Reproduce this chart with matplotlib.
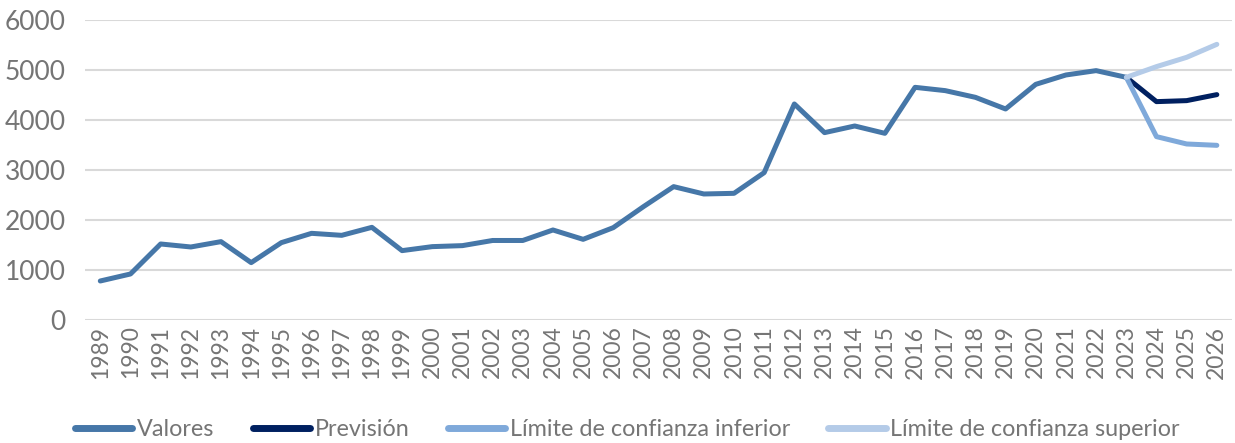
import numpy as np
import matplotlib.pyplot as plt

# Datos
years = [str(y) for y in range(1989, 2027)]
valores = [780, 920, 1520, 1460, 1567, 1147, 1547, 1733, 1693, 1853,
           1387, 1467, 1487, 1590, 1590, 1800, 1613, 1847, 2267, 2667,
           2520, 2533, 2947, 4320, 3747, 3880, 3733, 4653, 4587, 4453,
           4220, 4713, 4900, 4987, 4853]
prevision = [4853, 4367, 4387, 4507]
limite_inf = [4853, 3667, 3520, 3493]
limite_sup = [4853, 5067, 5253, 5513]

plt.rcParams['font.family'] = ['Lato', 'DejaVu Sans']
gris = '#757575'

fig = plt.figure(figsize=(12.35, 4.43), dpi=100)
ax = fig.add_axes([0.069, 0.2777, 0.9285, 0.6772])

x = np.arange(len(years))
x_fc = x[len(valores) - 1:]

ax.plot(x[:len(valores)], valores, color='#4677A8', lw=3.6, label='Valores', solid_capstyle='round')
ax.plot(x_fc, prevision, color='#002060', lw=3.6, label='Previsión', solid_capstyle='round')
ax.plot(x_fc, limite_inf, color='#7FA9DA', lw=3.6, label='Límite de confianza inferior', solid_capstyle='round')
ax.plot(x_fc, limite_sup, color='#B4CBE8', lw=3.6, label='Límite de confianza superior', solid_capstyle='round')

ax.set_xlim(-0.5, len(years) - 0.5)
ax.set_ylim(0, 6000)
ax.set_yticks(range(0, 6001, 1000))
ax.set_xticks(x)
ax.set_xticklabels(years, rotation=90)
ax.grid(axis='y', color='#D9D9D9', lw=1.5)
ax.set_axisbelow(True)
for s in ax.spines.values():
    s.set_visible(False)
ax.tick_params(length=0, labelcolor=gris)
ax.tick_params(axis='x', pad=4, labelsize=16.5)
ax.tick_params(axis='y', pad=14, labelsize=19)

leg = fig.legend(loc='lower center', bbox_to_anchor=(0.508, -0.04), ncol=4, frameon=False,
                 handlelength=2.45, handletextpad=0.2, columnspacing=1.65,
                 prop={'size': 16.8}, labelcolor=gris)
for h in leg.get_lines():
    h.set_linewidth(5)
    h.set_solid_capstyle('round')

fig.savefig('out.png', dpi=100)
